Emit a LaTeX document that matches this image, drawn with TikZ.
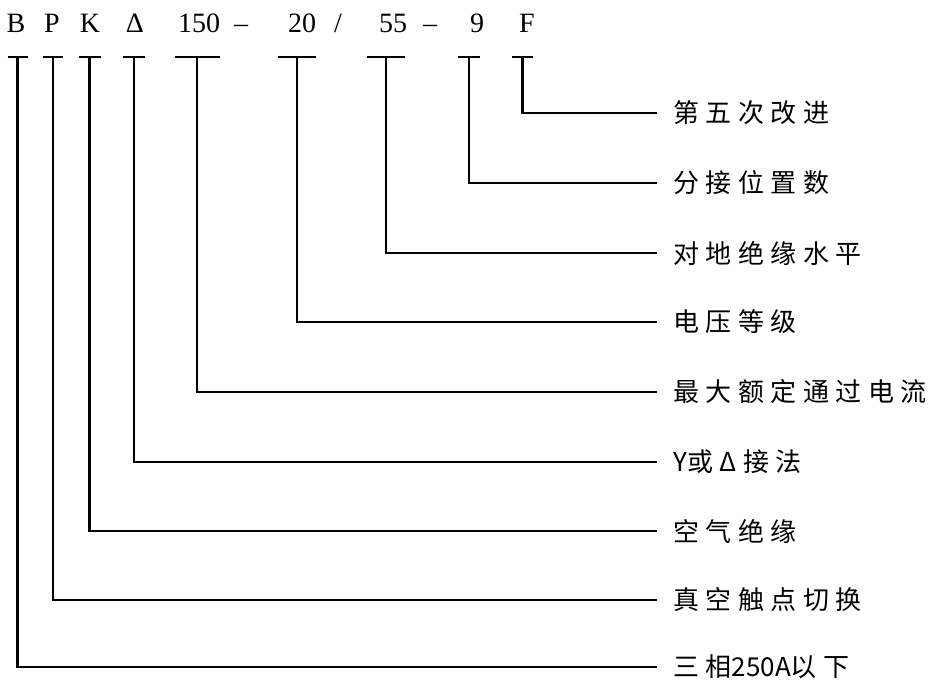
\documentclass[tikz,border=0pt]{standalone}
\usepackage{fontspec}
\usetikzlibrary{positioning}
\newfontfamily\cjk[LetterSpace=25]{Noto Sans CJK SC}
\newfontfamily\cjktight{Noto Sans CJK SC}
\newfontfamily\codefont{Liberation Serif}
\newcommand{\nosp}[1]{{\cjktight #1}}
\tikzset{
    every node/.style={inner sep=0pt},
    lead/.style={draw=black,line width=2.4pt},
    codechar/.style={font=\codefont\fontsize{28}{28}\selectfont,anchor=base},
    meaning/.style={font=\cjk\fontsize{26}{26}\selectfont,anchor=west}
}
\begin{document}
\begin{tikzpicture}[x=1pt,y=-1pt]
\useasboundingbox (0,0) rectangle (936,684);
% model code
\node[codechar] (cB) at (16,33) {B};
\node[codechar] (cP) at (52,33) {P};
\node[codechar] (cK) at (90,33) {K};
\node[codechar] (cD) at (135,33) {Δ};
\node[codechar] (cI) at (199,33) {150};
\node[codechar] (d1) at (241,33) {–};
\node[codechar] (cU) at (302,33) {20};
\node[codechar] (sl) at (338,33) {/};
\node[codechar] (cL) at (393,33) {55};
\node[codechar] (d2) at (430,33) {–};
\node[codechar] (cN) at (477,33) {9};
\node[codechar] (cF) at (527,33) {F};
% leaders: bar x / half bar / level / name / meaning
\foreach \bx/\bw/\lv/\nm/\txt in {
    17.5/10/667/B/三相\nosp{250A}以下,
    53/10/600/P/真空触点切换,
    89.5/11/531/K/空气绝缘,
    134/11/462/D/\nosp{Y}或Δ接法,
    197/22.5/392/I/最大额定通过电流,
    297/19/322/U/电压等级,
    386/19/253/L/对地绝缘水平,
    469/11/183/N/分接位置数,
    522.5/10.5/113/F/第五次改进}{
    \coordinate (top-\nm) at (\bx,57);
    \node[meaning] (lab-\nm) at (673,\lv) {\txt};
    \draw[lead] ([xshift=-\bw pt]top-\nm) -- ([xshift=\bw pt]top-\nm);
    \draw[lead] (top-\nm) |- ([xshift=-16pt]lab-\nm.west);
}
\end{tikzpicture}
\end{document}
